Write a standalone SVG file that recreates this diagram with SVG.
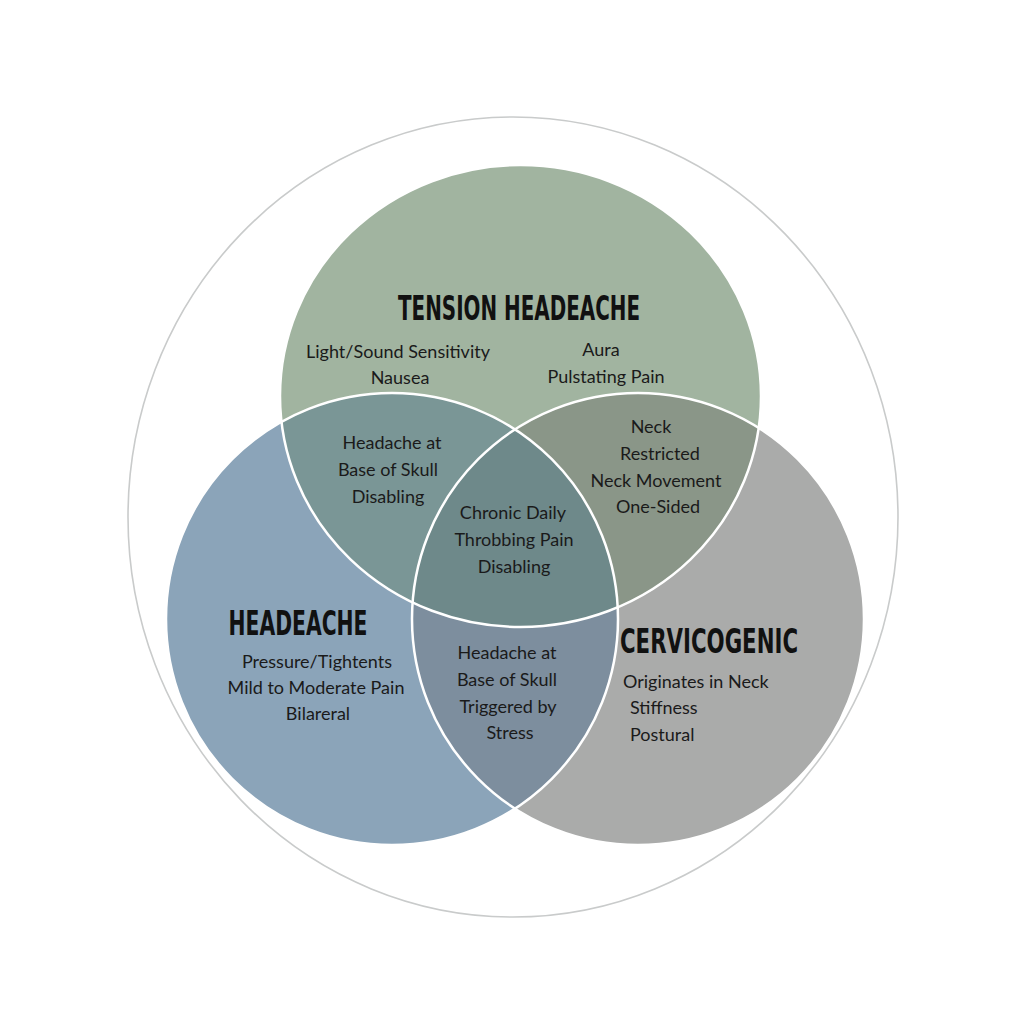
<svg xmlns="http://www.w3.org/2000/svg" width="1024" height="1024" viewBox="0 0 1024 1024">
<style>
.title{font-family:"Liberation Sans Narrow","DejaVu Sans Condensed","Liberation Sans",sans-serif;font-weight:bold;font-size:33px;fill:#111;text-anchor:middle}
.t{font-family:Lato,"Open Sans","Liberation Sans",sans-serif;font-size:18px;fill:#1a1a1a;text-anchor:middle}
.l{text-anchor:start}
.edge{fill:none;stroke:#ffffff;stroke-width:2.5}
</style>
<defs>
<clipPath id="cA"><ellipse cx="520.5" cy="396" rx="240.5" ry="231"/></clipPath>
<clipPath id="cB"><circle cx="392" cy="619" r="226"/></clipPath>
<clipPath id="cC"><circle cx="638" cy="619" r="226"/></clipPath>
</defs>
<rect width="1024" height="1024" fill="#ffffff"/>
<ellipse cx="513" cy="517" rx="385" ry="400" fill="none" stroke="#c9cbcb" stroke-width="1.6"/>
<g id="connectors"></g>
<g id="tension">
<ellipse cx="520.5" cy="396" rx="240.5" ry="231" fill="#a1b4a0"/>
</g>
<g id="headache">
<circle cx="392" cy="619" r="226" fill="#8ba4b9"/>
</g>
<g id="cervicogenic">
<circle cx="638" cy="619" r="226" fill="#aaabaa"/>
</g>
<g id="overlap-tension-headache" clip-path="url(#cA)">
<circle cx="392" cy="619" r="226" fill="#7a9696"/>
</g>
<g id="overlap-tension-cervicogenic" clip-path="url(#cA)">
<circle cx="638" cy="619" r="226" fill="#8a9688"/>
</g>
<g id="overlap-headache-cervicogenic" clip-path="url(#cB)">
<circle cx="638" cy="619" r="226" fill="#7d8e9e"/>
</g>
<g id="overlap-all" clip-path="url(#cA)">
<g clip-path="url(#cB)">
<circle cx="638" cy="619" r="226" fill="#6e898a"/>
</g>
</g>
<g id="outlines">
<ellipse class="edge" cx="520.5" cy="396" rx="240.5" ry="231"/>
<circle class="edge" cx="392" cy="619" r="226"/>
<circle class="edge" cx="638" cy="619" r="226"/>
</g>
<g id="labels">
<text class="title" x="519" y="320" textLength="242" lengthAdjust="spacingAndGlyphs">TENSION HEADEACHE</text>
<text class="t" x="398" y="358">Light/Sound Sensitivity</text>
<text class="t" x="400" y="384">Nausea</text>
<text class="t" x="601" y="356">Aura</text>
<text class="t" x="606" y="383">Pulstating Pain</text>
<text class="t" x="392" y="449">Headache at</text>
<text class="t" x="388" y="476">Base of Skull</text>
<text class="t" x="388" y="503">Disabling</text>
<text class="t" x="651" y="433">Neck</text>
<text class="t" x="660" y="460">Restricted</text>
<text class="t" x="656" y="487">Neck Movement</text>
<text class="t" x="658" y="513">One-Sided</text>
<text class="t" x="513" y="519">Chronic Daily</text>
<text class="t" x="514" y="546">Throbbing Pain</text>
<text class="t" x="514" y="573">Disabling</text>
<text class="title" x="298" y="635" textLength="139" lengthAdjust="spacingAndGlyphs">HEADEACHE</text>
<text class="t" x="317" y="668">Pressure/Tightents</text>
<text class="t" x="316" y="694">Mild to Moderate Pain</text>
<text class="t" x="318" y="720">Bilareral</text>
<text class="t" x="507" y="659">Headache at</text>
<text class="t" x="507" y="686">Base of Skull</text>
<text class="t" x="508" y="713">Triggered by</text>
<text class="t" x="510" y="739">Stress</text>
<text class="title" x="709" y="653" textLength="178" lengthAdjust="spacingAndGlyphs">CERVICOGENIC</text>
<text class="t l" x="623" y="688">Originates in Neck</text>
<text class="t l" x="630" y="714">Stiffness</text>
<text class="t l" x="630" y="741">Postural</text>
</g>
</svg>
